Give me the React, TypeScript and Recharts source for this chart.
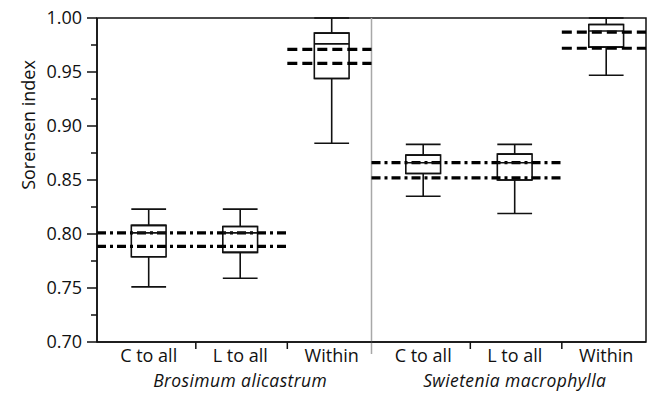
import {
  ComposedChart,
  XAxis,
  YAxis,
  Scatter,
  Line,
  ErrorBar,
  ReferenceArea,
  ReferenceLine,
  Label,
} from "recharts";

const categories = ["C to all", "L to all", "Within", "C to all", "L to all", "Within"];
const species = ["Brosimum alicastrum", "Swietenia macrophylla"];

// box plot stats, one per category
const whiskerLow = [0.751, 0.759, 0.884, 0.835, 0.819, 0.947];
const boxLow = [0.779, 0.783, 0.944, 0.856, 0.85, 0.973];
const medians = [0.801, 0.801, 0.976, 0.866, 0.866, 0.988];
const boxHigh = [0.808, 0.807, 0.986, 0.873, 0.874, 0.994];
const whiskerHigh = [0.823, 0.823, 1.0, 0.883, 0.883, 1.0];

// dash-dot bands: C/L pair, then within, for each species
const bandLow = [0.7885, 0.958, 0.852, 0.972];
const bandHigh = [0.801, 0.971, 0.866, 0.987];

const yMajor = [0.7, 0.75, 0.8, 0.85, 0.9, 0.95, 1.0];
const yMinor = [0.725, 0.775, 0.825, 0.875, 0.925, 0.975];

const W = 649;
const H = 400;
const MARGIN = { top: 18, right: 3, bottom: 0, left: 0 };
const Y_W = 97;
const X_H = 58;
const INK = "#111";
const FONT = "'Open Sans', sans-serif";

const CENTER = 0.565; // box centre inside its category slot
const SPLIT = 0.08; // where the category tick sits
const BOX_HALF = 0.19;
const unitPx = (W - MARGIN.left - MARGIN.right - Y_W) / 6;
const capPx = BOX_HALF * unitPx;

const catX = (i: number) => i + CENTER;
const separators = [1, 2, 4, 5].map((i) => i + SPLIT);
const xTicks = [...categories.map((_, i) => catX(i)), ...separators].sort((a, b) => a - b);

const upper = categories.map((_, i) => ({
  x: catX(i),
  y: boxHigh[i],
  err: [0, whiskerHigh[i] - boxHigh[i]],
}));
const lower = categories.map((_, i) => ({
  x: catX(i),
  y: boxLow[i],
  err: [boxLow[i] - whiskerLow[i], 0],
}));
const mids = categories.map((_, i) => ({ x: catX(i), y: medians[i] }));

const bandSpan = (b: number) => {
  const g = Math.floor(b / 2) * 3;
  return b % 2 === 0 ? [g, g + 2 + SPLIT] : [g + 2 + SPLIT, g + 3];
};
const bandLines = bandLow.flatMap((lo, b) => {
  const [s, e] = bandSpan(b);
  const dash = b % 2 === 0 ? "9 4 3 4" : "10 5";
  return [lo, bandHigh[b]].map((v, k) => ({
    key: `band-${b}-${k}`,
    dash,
    data: [
      { x: s, y: v },
      { x: e, y: v },
    ],
  }));
});

const XTick = (props: any) => {
  const { x, y, payload } = props;
  const v = payload.value;
  if (separators.some((s) => Math.abs(s - v) < 1e-6)) {
    return <line x1={x} x2={x} y1={y - 7} y2={y} stroke={INK} strokeWidth={1.5} />;
  }
  const i = Math.round(v - CENTER);
  return (
    <g>
      <text x={x} y={y + 13} textAnchor="middle" fontFamily={FONT} fontSize={18} fill={INK}>
        {categories[i]}
      </text>
      {i % 3 === 1 && (
        <text
          x={x}
          y={y + 37.5}
          textAnchor="middle"
          fontFamily={FONT}
          fontSize={17.5}
          fontStyle="italic"
          letterSpacing={0.4}
          fill={INK}
        >
          {species[Math.floor(i / 3)]}
        </text>
      )}
    </g>
  );
};

const YTick = (props: any) => {
  const { x, y, payload } = props;
  const v = payload.value;
  const major = yMajor.some((m) => Math.abs(m - v) < 1e-6);
  const axisX = x + 14;
  return (
    <g>
      <line x1={axisX - (major ? 10 : 6)} x2={axisX} y1={y} y2={y} stroke={INK} strokeWidth={1.5} />
      {major && (
        <text x={x - 1} y={y} dy="0.35em" textAnchor="end" fontFamily={FONT} fontSize={18} fill={INK}>
          {v.toFixed(2)}
        </text>
      )}
    </g>
  );
};

export default function App() {
  return (
    <div style={{ width: W, height: H }}>
      <style>{`body{margin:0}`}</style>
      <ComposedChart width={W} height={H} margin={MARGIN}>
        <XAxis
          type="number"
          dataKey="x"
          domain={[0, 6]}
          allowDataOverflow
          ticks={xTicks}
          interval={0}
          tickLine={false}
          tickSize={7}
          tickMargin={0}
          tick={(p: any) => <XTick {...p} />}
          height={X_H}
          axisLine={{ stroke: INK, strokeWidth: 1.5 }}
        />
        <YAxis
          type="number"
          domain={[0.7, 1.0]}
          allowDataOverflow
          ticks={[...yMajor, ...yMinor].sort((a, b) => a - b)}
          interval={0}
          tickLine={false}
          tickSize={10}
          tickMargin={4}
          tick={(p: any) => <YTick {...p} />}
          width={Y_W}
          axisLine={{ stroke: INK, strokeWidth: 1.5 }}
        >
          <Label
            content={() => (
              <text
                transform="translate(28,125) rotate(-90)"
                textAnchor="middle"
                dominantBaseline="central"
                fontFamily={FONT}
                fontSize={18}
                fill={INK}
              >
                Sorensen index
              </text>
            )}
          />
        </YAxis>

        <ReferenceLine
          segment={[
            { x: 3, y: 0.689 },
            { x: 3, y: 1.0 },
          ]}
          ifOverflow="visible"
          stroke="#a8a8a8"
          strokeWidth={1.5}
        />
        <ReferenceArea x1={0} x2={6} y1={0.7} y2={1.0} fill="none" stroke={INK} strokeWidth={1.5} />

        {categories.map((c, i) => (
          <ReferenceArea
            key={`box-${i}`}
            x1={catX(i) - BOX_HALF}
            x2={catX(i) + BOX_HALF}
            y1={boxLow[i]}
            y2={boxHigh[i]}
            fill="none"
            stroke={INK}
            strokeWidth={1.6}
            ifOverflow="visible"
          />
        ))}

        <Scatter data={upper} dataKey="y" shape={() => <g />} isAnimationActive={false}>
          <ErrorBar dataKey="err" direction="y" width={capPx} stroke={INK} strokeWidth={1.6} isAnimationActive={false} />
        </Scatter>
        <Scatter data={lower} dataKey="y" shape={() => <g />} isAnimationActive={false}>
          <ErrorBar dataKey="err" direction="y" width={capPx} stroke={INK} strokeWidth={1.6} isAnimationActive={false} />
        </Scatter>
        <Scatter
          data={mids}
          dataKey="y"
          isAnimationActive={false}
          shape={(p: any) => (
            <line x1={p.cx - capPx} x2={p.cx + capPx} y1={p.cy} y2={p.cy} stroke={INK} strokeWidth={1.6} />
          )}
        />

        {bandLines.map((b) => (
          <Line
            key={b.key}
            data={b.data}
            dataKey="y"
            stroke="#000"
            strokeWidth={3.2}
            strokeDasharray={b.dash}
            dot={false}
            activeDot={false}
            isAnimationActive={false}
          />
        ))}
      </ComposedChart>
    </div>
  );
}
